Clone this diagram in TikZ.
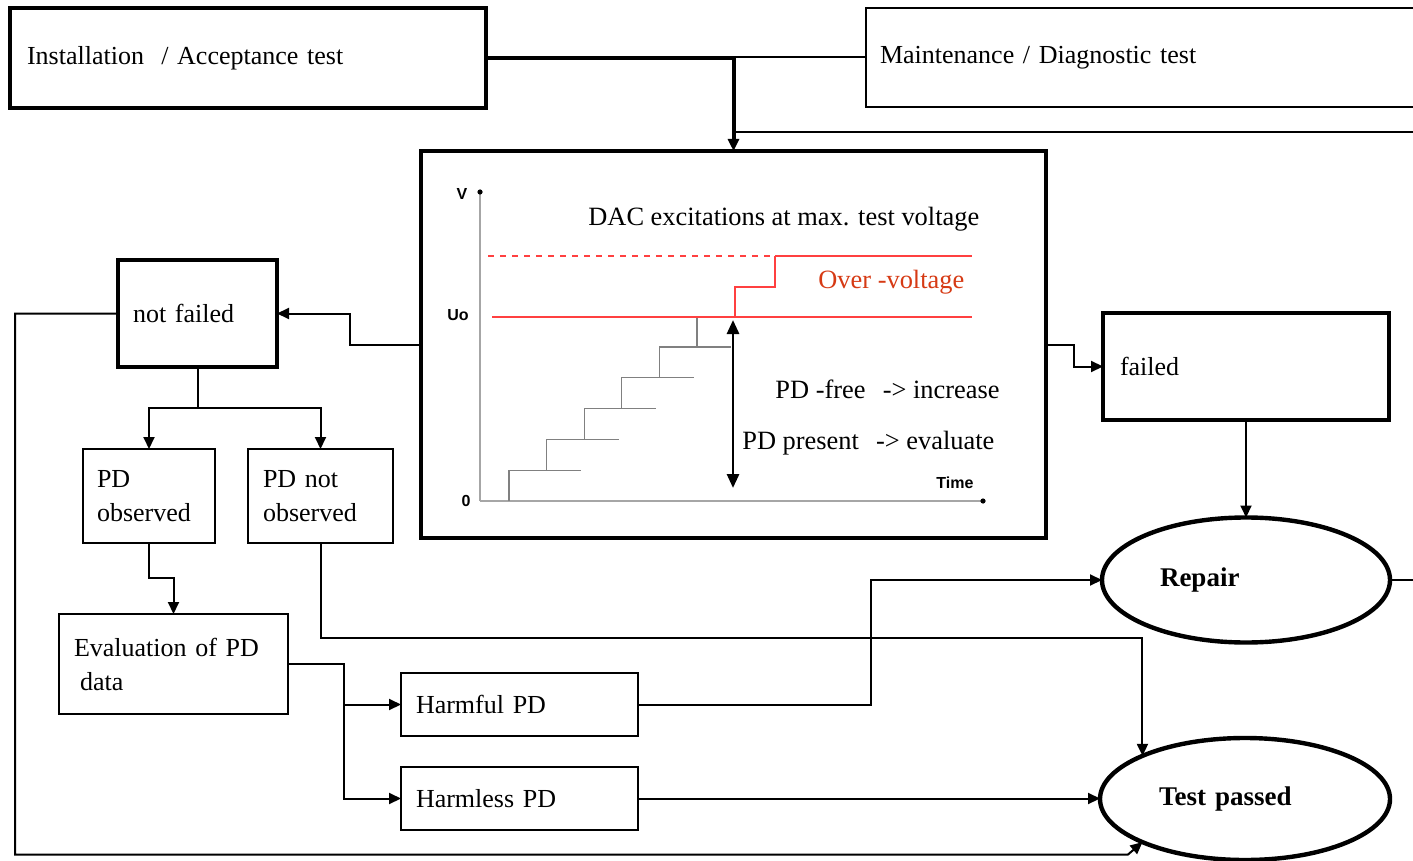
\documentclass[tikz,border=0pt]{standalone}
\usepackage{fontspec}
\setmainfont{Liberation Serif}
\newfontfamily\chartfont{Liberation Sans}
\usepackage{tikz}
\usetikzlibrary{arrows.meta,shapes.geometric}
\definecolor{ovred}{RGB}{214,58,20}

\begin{document}
\begin{tikzpicture}[x = 0.5pt, y = -0.5pt, font = \fontsize{13}{17}\selectfont,
    >={Triangle[length=6pt,width=5.5pt]},
    blk/.style = {draw, rectangle, anchor=north west, align=left, inner ysep=0pt, outer sep=0pt, line width=0.8pt},
    heavy/.style = {blk, line width=2.2pt},
    oval/.style = {draw, ellipse, line width=2.2pt, inner sep=0pt, outer sep=0pt, align=left,
                   font=\fontsize{13.5}{17}\selectfont\bfseries},
    link/.style = {line width=1pt},
    ax/.style = {gray!70, line width=0.9pt},
    stair/.style = {gray, line width=0.6pt},
    lim/.style = {red!75, line width=0.9pt},
    txt/.style = {anchor=west, inner sep=0pt, font=\fontsize{13.2}{16}\selectfont},
    tick/.style = {inner sep=0pt, font=\chartfont\bfseries\fontsize{8}{9}\selectfont}]
  \useasboundingbox (0,0) rectangle (1413,861);
  \clip (0,0) rectangle (1413,861);
  % top boxes
  \node [heavy, minimum width=238pt, minimum height=50pt, inner xsep=8.5pt, text width=221pt] (inst) at (10,8)
        {Installation \ / Acceptance test};
  \node [blk, minimum width=300pt, minimum height=49.5pt, inner xsep=7pt, text width=286pt] (maint) at (866,8)
        {Maintenance / Diagnostic test};
  \coordinate (mright) at (1413,132);
  \coordinate (rout) at (1413,580);
  % chart box
  \node [heavy, minimum width=312.5pt, minimum height=193.5pt] (dac) at (421,151) {};
  \draw [ax] (480,501) -- (480,192);
  \draw [ax] (480,501) -- (983,501);
  \fill (480,192) circle (1.3pt);
  \fill (983,501) circle (1.3pt);
  \node [tick] (vlab) at (462,194) {V};
  \node [tick] (ulab) at (458,315) {Uo};
  \node [tick] (zlab) at (466,501) {0};
  \node [tick] (tlab) at (955,483) {Time};
  \foreach \i in {0,...,4}
    \draw [stair] ({509+37.6*\i},{501-30.8*\i}) -- ({509+37.6*\i},{470.2-30.8*\i})
                  -- ({581+37.6*\i},{470.2-30.8*\i});
  \draw [stair] (697,347) -- (697,317);
  \draw [lim, dashed] (488,256) -- (775,256);
  \draw [lim] (775,256) -- (972,256);
  \draw [lim] (492,317) -- (972,317);
  \draw [lim] (735,317) -- (735,287) -- (775,287) -- (775,256);
  \draw [{Triangle[length=7pt,width=6pt]}-{Triangle[length=7pt,width=6pt]}, line width=1.4pt] (733,320) -- (733,488);
  \node [txt] (title) at (588,219) {DAC excitations at max. test voltage};
  \node [txt, text=ovred] (ovlab) at (818,282) {Over -voltage};
  \node [txt] (freelab) at (775,389) {PD -free \hspace{2pt} -> increase};
  \node [txt] (preslab) at (742,443) {PD present \hspace{2pt} -> evaluate};
  % left branch
  \node [heavy, minimum width=79.5pt, minimum height=53.5pt, inner xsep=7.5pt, text width=64.5pt] (nf) at (118,260) {not failed};
  \node [blk, minimum width=66pt, minimum height=47pt, inner xsep=7pt, text width=52pt] (pdobs) at (83,449) {PD\\observed};
  \node [blk, minimum width=72.5pt, minimum height=47pt, inner xsep=7.5pt, text width=57.5pt] (pdnot) at (248,449) {PD not\\observed};
  \node [blk, minimum width=114.5pt, minimum height=50pt, inner xsep=7.5pt, text width=99.5pt] (eval) at (59,614) {Evaluation of PD\\\hspace{3pt}data};
  \node [blk, minimum width=118.5pt, minimum height=31.5pt, inner xsep=7.5pt, text width=103.5pt] (harmful) at (401,673) {Harmful PD};
  \node [blk, minimum width=118.5pt, minimum height=31.5pt, inner xsep=7.5pt, text width=103.5pt] (harmless) at (401,767) {Harmless PD};
  % right branch
  \node [heavy, minimum width=143pt, minimum height=53.5pt, inner xsep=8.5pt, text width=126pt] (failed) at (1103,313) {failed};
  \node [oval, minimum width=144pt, minimum height=62.5pt, text width=86pt] (repair) at (1246,580) {Repair};
  \node [oval, minimum width=145pt, minimum height=61pt, text width=86pt] (testp) at (1245,799) {Test passed};
  % connectors
  \draw [->, line width=2pt] (inst.east) -| (dac.north);
  \draw [link] (maint.west) -- (maint.west -| dac.north);
  \draw [link] (mright) -- (mright -| dac.north);
  \draw [link, ->] (dac.west) -- ++(-71,0) |- (nf.east);
  \draw [link, ->] (dac.east) -- ++(28,0) |- (failed.west);
  \draw [link, ->] (failed.south) -- (repair.north);
  \draw [link] (repair.east) -- (rout);
  \draw [link, ->] (nf.south) -- ++(0,41) -| (pdobs.north);
  \draw [link, ->] (nf.south) -- ++(0,41) -| (pdnot.north);
  \draw [link, ->] (pdobs.south) -- ++(0,35) -| (eval.north);
  \draw [link, ->] (eval.east) -- ++(56,0) |- (harmful.west);
  \draw [link, ->] (eval.east) -- ++(56,0) |- (harmless.west);
  \draw [link, ->] (harmful.east) -- ++(233,0) |- (repair.west);
  \draw [link, ->] (harmless.east) -- (harmless.east -| testp.west);
  \draw [link, ->] (pdnot.south) -- ++(0,95) -| (testp.north west);
  \draw [link, ->] (nf.west) -- ++(-103,0) -- ++(0,541) -- ++(1113,0) -- (testp.south west);
\end{tikzpicture}
\end{document}
